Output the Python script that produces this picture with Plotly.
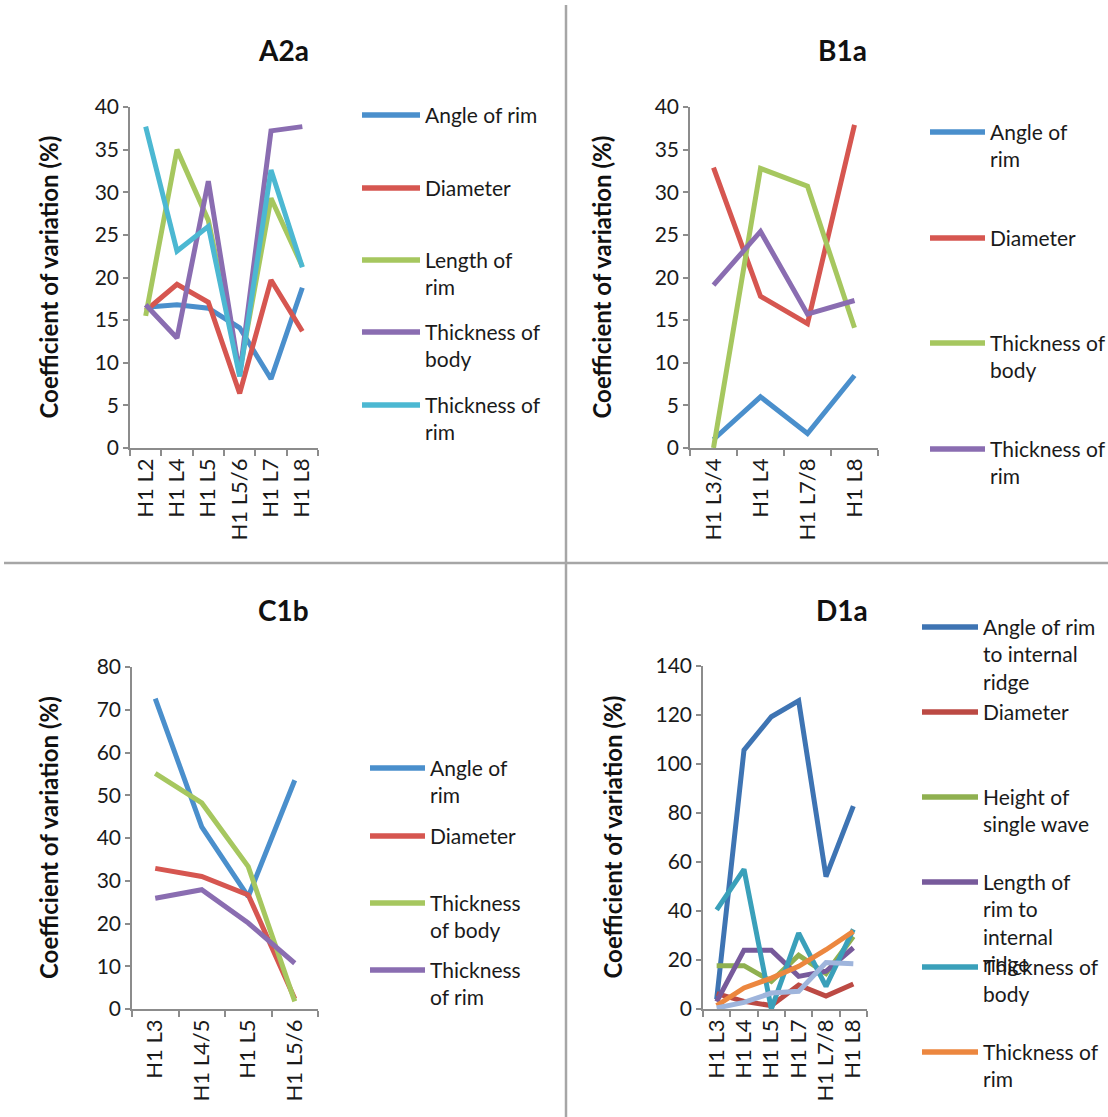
import plotly.graph_objects as go

W, H = 1108, 1117

# ---------------- data ----------------
a_cats = ["H1 L2", "H1 L4", "H1 L5", "H1 L5/6", "H1 L7", "H1 L8"]
a_names = ["Angle of rim", "Diameter", "Length of<br>rim", "Thickness of<br>body", "Thickness of<br>rim"]
a_angle = [16.5, 16.8, 16.4, 14.1, 8.1, 18.8]
a_diameter = [16.1, 19.2, 17.1, 6.4, 19.7, 13.7]
a_length = [15.5, 35.0, 26.7, 9.0, 29.3, 21.3]
a_tbody = [16.8, 12.9, 31.3, 8.6, 37.2, 37.7]
a_trim = [37.7, 23.1, 26.0, 8.4, 32.6, 21.2]

b_cats = ["H1 L3/4", "H1 L4", "H1 L7/8", "H1 L8"]
b_names = ["Angle of<br>rim", "Diameter", "Thickness of<br>body", "Thickness of<br>rim"]
b_angle = [1.0, 6.0, 1.7, 8.5]
b_diameter = [32.9, 17.8, 14.6, 37.9]
b_tbody = [0.0, 32.8, 30.7, 14.1]
b_trim = [19.1, 25.4, 15.7, 17.3]

c_cats = ["H1 L3", "H1 L4/5", "H1 L5", "H1 L5/6"]
c_names = ["Angle of<br>rim", "Diameter", "Thickness<br>of body", "Thickness<br>of rim"]
c_angle = [72.6, 42.6, 26.3, 53.5]
c_diameter = [32.9, 31.0, 26.7, 2.4]
c_tbody = [55.1, 48.2, 33.3, 1.8]
c_trim = [25.9, 27.9, 20.1, 10.7]

d_cats = ["H1 L3", "H1 L4", "H1 L5", "H1 L7", "H1 L7/8", "H1 L8"]
d_names = ["Angle of rim<br>to internal<br>ridge", "Diameter", "Height of<br>single wave",
           "Length of<br>rim to<br>internal<br>ridge", "Thickness of<br>body", "Thickness of<br>rim",
           "Unlabelled series"]
d_angle = [4.0, 105.7, 119.3, 125.8, 54.0, 82.8]
d_diameter = [6.3, 3.1, 1.4, 9.8, 5.3, 10.2]
d_height = [17.7, 17.7, 11.3, 22.0, 14.5, 29.6]
d_length = [3.0, 24.0, 24.0, 13.3, 15.4, 25.0]
d_tbody = [40.5, 57.0, 0.0, 31.0, 9.2, 32.5]
d_trim = [1.4, 8.6, 12.6, 17.4, 24.2, 31.7]
d_extra = [0.4, 2.7, 6.5, 7.2, 19.0, 18.5]

titles = ["A2a", "B1a", "C1b", "D1a"]
ytitle = "Coefficient of variation (%)"

# ---------------- styles ----------------
pal_light = ["#4A8FCC", "#D65650", "#A6C75F", "#8A6DB1", "#4CB8D2"]
pal_dark = ["#3E74B3", "#BC4A44", "#8FB050", "#775A9B", "#3AA0BA", "#EC873F", "#9FB5DC"]
FONT = "Lato, 'Open Sans', sans-serif"
AXC = "#8C8C8C"
LW = 5


def px(x):
    return x / W


def py(y):
    return 1 - y / H


panels = [
    dict(cats=a_cats, series=[a_angle, a_diameter, a_length, a_tbody, a_trim], names=a_names,
         colors=pal_light, dom=(130, 318, 107, 448), yr=(0, 40), dt=5,
         title_xy=(283, 50), ytitle_x=48, leg_x=(362, 420), leg_y=[115, 188, 260, 332, 405]),
    dict(cats=b_cats, series=[b_angle, b_diameter, b_tbody, b_trim], names=b_names,
         colors=[pal_light[0], pal_light[1], pal_light[2], pal_light[3]], dom=(690, 878, 107, 448),
         yr=(0, 40), dt=5, title_xy=(842, 50), ytitle_x=601, leg_x=(930, 985),
         leg_y=[132, 238, 343, 449]),
    dict(cats=c_cats, series=[c_angle, c_diameter, c_tbody, c_trim], names=c_names,
         colors=[pal_light[0], pal_light[1], pal_light[2], pal_light[3]], dom=(132, 318, 667, 1009),
         yr=(0, 80), dt=10, title_xy=(283, 610), ytitle_x=48, leg_x=(370, 425),
         leg_y=[768, 836, 903, 970]),
    dict(cats=d_cats, series=[d_angle, d_diameter, d_height, d_length, d_tbody, d_trim, d_extra],
         names=d_names, colors=pal_dark, dom=(703, 867, 666, 1009), yr=(0, 140), dt=20,
         title_xy=(842, 610), ytitle_x=612, leg_x=(922, 978),
         leg_y=[627, 712, 797, 882, 967, 1052]),
]

fig = go.Figure()
annotations = []
shapes = []

for i, p in enumerate(panels):
    k = "" if i == 0 else str(i + 1)
    xa, ya = "x" + k, "y" + k
    for j, vals in enumerate(p["series"]):
        fig.add_trace(go.Scatter(
            x=p["cats"], y=vals, mode="lines", name=p["names"][j].replace("<br>", " "),
            line=dict(color=p["colors"][j], width=LW), xaxis=xa, yaxis=ya, showlegend=False,
        ))
    x0, x1, y0, y1 = p["dom"]
    n = len(p["cats"])
    fig.update_layout(**{
        "xaxis" + k: dict(domain=[px(x0), px(x1)], anchor=ya, type="category", automargin=False,
                          range=[-0.5, n - 0.5], tickson="boundaries", ticks="outside",
                          ticklen=6, tickwidth=1.5, tickcolor=AXC, showline=True, linecolor=AXC,
                          linewidth=1.5, showgrid=False, zeroline=False, tickangle=-90,
                          tickfont=dict(family=FONT, size=22, color="#1a1a1a")),
        "yaxis" + k: dict(domain=[py(y1), py(y0)], anchor=xa, range=list(p["yr"]), dtick=p["dt"],
                          automargin=False,
                          ticks="outside", ticklen=5, tickwidth=1.5, tickcolor=AXC, showline=True,
                          linecolor=AXC, linewidth=1.5, showgrid=False, zeroline=False,
                          ticklabelstandoff=0,
                          tickfont=dict(family=FONT, size=21, color="#1a1a1a")),
    })
    # chart title
    tx, ty = p["title_xy"]
    annotations.append(dict(x=px(tx), y=py(ty), xref="paper", yref="paper", text="<b>%s</b>" % titles[i],
                            showarrow=False, font=dict(family=FONT, size=28, color="#111"),
                            xanchor="center", yanchor="middle"))
    # y-axis title
    annotations.append(dict(x=px(p["ytitle_x"]), y=py((y0 + y1) / 2), xref="paper", yref="paper",
                            text="<b>%s</b>" % ytitle, textangle=-90, showarrow=False,
                            font=dict(family=FONT, size=24, color="#111"),
                            xanchor="center", yanchor="middle"))
    # legend (only labelled series)
    lx0, lx1 = p["leg_x"]
    for j, ly in enumerate(p["leg_y"]):
        shapes.append(dict(type="line", xref="paper", yref="paper", x0=px(lx0), x1=px(lx1),
                           y0=py(ly), y1=py(ly), line=dict(color=p["colors"][j], width=LW + 0.5)))
        annotations.append(dict(x=px(lx1 + 4), y=py(ly - 14), xref="paper", yref="paper",
                                text=p["names"][j], showarrow=False, align="left",
                                font=dict(family=FONT, size=21, color="#1a1a1a"),
                                xanchor="left", yanchor="top", borderpad=0))

# divider lines between panels
shapes.append(dict(type="line", xref="paper", yref="paper", x0=px(566), x1=px(566), y0=py(5), y1=py(1117),
                   line=dict(color="#A6A6A6", width=2.5)))
shapes.append(dict(type="line", xref="paper", yref="paper", x0=px(4), x1=px(1108), y0=py(563), y1=py(563),
                   line=dict(color="#A6A6A6", width=2.5)))

fig.update_layout(width=W, height=H, autosize=False,
                  margin=dict(l=0, r=0, t=0, b=0, pad=0, autoexpand=False),
                  paper_bgcolor="white", plot_bgcolor="white", showlegend=False,
                  annotations=annotations, shapes=shapes)

fig.write_html("out.html", config={"displayModeBar": False},
               post_script="document.body.style.margin='0';document.body.style.overflow='hidden';")
